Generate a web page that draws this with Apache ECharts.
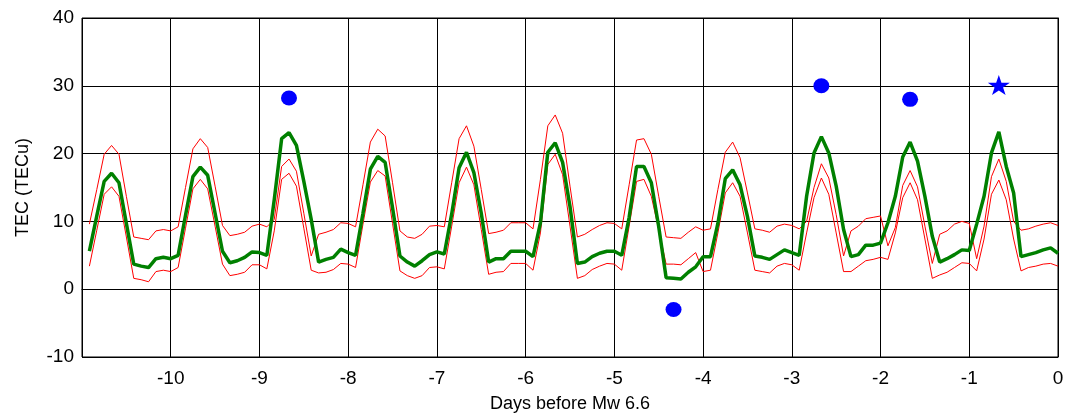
<!DOCTYPE html>
<html>
<head>
<meta charset="utf-8">
<script src="https://cdn.jsdelivr.net/npm/echarts@6/dist/echarts.min.js"></script>
<style>html,body{margin:0;padding:0;background:#fff}#c{width:1067px;height:418px}</style>
</head>
<body>
<div id="c"></div>
<script>
// Sampling: every 2 hours (1/12 day), first sample at -11 + 1/12 day
const samplesPerDay = 12;
const startDay = -11;
const tecObserved = [5.6,10.8,15.9,17.1,15.7,9.7,3.7,3.4,3.2,4.5,4.7,4.5,
  5.0,10.9,16.6,18.0,16.8,11.2,5.6,3.9,4.2,4.7,5.5,5.4,
  5.0,13.2,22.2,23.1,21.2,15.9,10.3,4.0,4.4,4.7,5.9,5.4,
  5.0,11.2,17.7,19.6,18.7,12.0,4.9,4.0,3.4,4.2,5.1,5.5,
  5.2,11.1,17.9,20.2,17.2,11.2,4.0,4.5,4.5,5.6,5.6,5.6,
  4.8,9.8,20.2,21.6,18.7,12.2,3.8,4.0,4.8,5.3,5.6,5.6,
  5.0,10.6,18.1,18.1,15.7,9.2,1.7,1.6,1.5,2.5,3.3,4.8,
  4.8,9.7,16.3,17.6,15.4,10.7,4.9,4.7,4.4,5.1,5.8,5.4,
  5.0,13.7,20.1,22.5,20.1,15.2,8.8,4.8,5.1,6.5,6.5,6.8,
  9.8,13.7,19.5,21.7,18.9,13.7,7.8,4.0,4.5,5.1,5.8,5.7,
  9.6,13.7,20.1,23.2,18.1,14.2,4.8,5.1,5.4,5.8,6.1,5.3];
const upperBound = [9.6,14.7,19.9,21.2,19.9,13.7,7.7,7.5,7.3,8.6,8.8,8.6,
  9.2,15.0,20.7,22.2,20.9,15.2,9.4,7.9,8.1,8.4,9.3,9.6,
  9.2,10.3,18.1,19.2,17.4,11.2,4.9,8.1,8.4,8.8,9.8,9.7,
  9.2,15.4,21.7,23.6,22.6,15.7,8.6,7.7,7.5,8.1,9.3,9.4,
  9.2,15.7,22.2,24.1,21.1,14.7,8.2,8.4,8.7,9.8,9.8,9.8,
  8.9,16.2,24.1,25.7,23.0,15.2,7.7,8.1,8.8,9.4,9.8,9.7,
  8.9,15.4,22.0,22.2,19.9,13.7,7.7,7.6,7.5,8.4,9.2,8.7,
  8.9,14.7,20.2,21.7,19.4,14.2,8.9,8.7,8.4,9.3,9.6,9.4,
  8.9,10.0,15.0,18.5,16.4,11.0,4.9,8.6,9.3,10.4,10.6,10.8,
  6.4,9.1,15.3,17.5,15.1,9.3,3.8,8.1,8.6,9.6,10.0,9.7,
  4.5,9.3,16.6,19.2,15.9,10.0,8.7,8.9,9.3,9.6,9.8,9.4];
const lowerBound = [3.4,8.7,14.0,15.1,13.7,7.7,1.6,1.4,1.1,2.6,2.8,2.6,
  3.2,9.0,14.8,16.2,14.8,9.3,3.7,2.0,2.2,2.5,3.6,3.6,
  3.0,8.6,16.2,17.1,15.2,9.0,2.8,2.4,2.5,2.9,3.8,3.7,
  3.2,9.6,15.8,17.5,16.7,9.7,2.7,2.0,1.6,2.0,3.2,3.3,
  3.0,9.3,15.7,18.0,15.4,8.8,2.2,2.5,2.6,3.8,3.8,3.8,
  2.8,8.3,18.4,19.9,16.9,9.3,1.6,2.0,2.9,3.4,3.8,3.7,
  2.8,9.3,15.9,16.2,13.7,8.8,3.7,3.7,3.6,4.5,5.4,2.6,
  2.8,8.3,14.2,15.7,13.7,8.3,2.8,2.6,2.4,3.4,3.8,3.6,
  2.8,8.3,13.5,16.4,14.0,8.3,2.6,2.6,3.4,4.2,4.4,4.7,
  4.4,8.3,13.5,15.7,13.2,7.4,1.6,2.1,2.5,3.2,3.9,3.8,
  2.7,7.4,14.0,16.1,13.2,7.4,2.7,3.2,3.4,3.7,3.8,3.4];
const anomalyDays = [-8.667, -4.333, -2.667, -1.667];
const anomalyValues = [28.2, -3.0, 30.0, 28.0];
const mainShockDay = [-0.667];
const mainShockValue = [30.1];
const xTicks = [-10,-9,-8,-7,-6,-5,-4,-3,-2,-1,0];
const yTicks = [-10,0,10,20,30,40];

const days = tecObserved.map((_, i) => startDay + (i + 1) / samplesPerDay);
const pairs = (xs, ys) => xs.map((x, i) => [x, ys[i]]);

const chart = echarts.init(document.getElementById('c'), null, {renderer: 'canvas'});
const font = 'Arial, "Liberation Sans", Helvetica, sans-serif';
chart.setOption({
  animation: false,
  backgroundColor: '#fff',
  grid: {left: 82, right: 9, top: 18, bottom: 59, show: true, borderColor: '#000', borderWidth: 1, backgroundColor: 'transparent'},
  xAxis: {
    type: 'value', min: -11, max: 0, interval: 1,
    name: 'Days before Mw 6.6', nameLocation: 'middle', nameGap: 38,
    nameTextStyle: {color: '#000', fontSize: 18, fontFamily: font},
    axisLine: {show: true, lineStyle: {color: '#000', width: 1}},
    axisTick: {show: false},
    axisLabel: {color: '#000', fontSize: 19, fontFamily: font, margin: 12,
      formatter: v => xTicks.indexOf(v) >= 0 ? String(v) : ''},
    splitLine: {show: true, lineStyle: {color: '#000', width: 1}}
  },
  yAxis: {
    type: 'value', min: -10, max: 40, interval: 10,
    name: 'TEC (TECu)', nameLocation: 'middle', nameGap: 50,
    nameTextStyle: {color: '#000', fontSize: 18, fontFamily: font},
    axisLine: {show: true, lineStyle: {color: '#000', width: 1}},
    axisTick: {show: false},
    axisLabel: {color: '#000', fontSize: 19, fontFamily: font, margin: 8,
      formatter: v => yTicks.indexOf(v) >= 0 ? String(v) : ''},
    splitLine: {show: true, lineStyle: {color: '#000', width: 1}}
  },
  series: [
    {type: 'line', data: pairs(days, upperBound), showSymbol: false, symbol: 'none',
      lineStyle: {color: '#ff0000', width: 1}, z: 2},
    {type: 'line', data: pairs(days, lowerBound), showSymbol: false, symbol: 'none',
      lineStyle: {color: '#ff0000', width: 1}, z: 2},
    {type: 'line', data: pairs(days, tecObserved), showSymbol: false, symbol: 'none',
      lineStyle: {color: '#008000', width: 3.5}, z: 3},
    {type: 'scatter', data: pairs(anomalyDays, anomalyValues), symbol: 'circle', symbolSize: [16, 15],
      itemStyle: {color: '#0000ff', opacity: 1}, z: 4},
    {type: 'scatter', data: pairs(mainShockDay, mainShockValue), symbol: 'path://M50,0 L61.8,35.3 L99,35.3 L69,57.6 L80.2,93 L50,71 L19.8,93 L31,57.6 L1,35.3 L38.2,35.3 Z',
      symbolSize: [22, 20], itemStyle: {color: '#0000ff', opacity: 1}, z: 4}
  ]
});
</script>
</body>
</html>
